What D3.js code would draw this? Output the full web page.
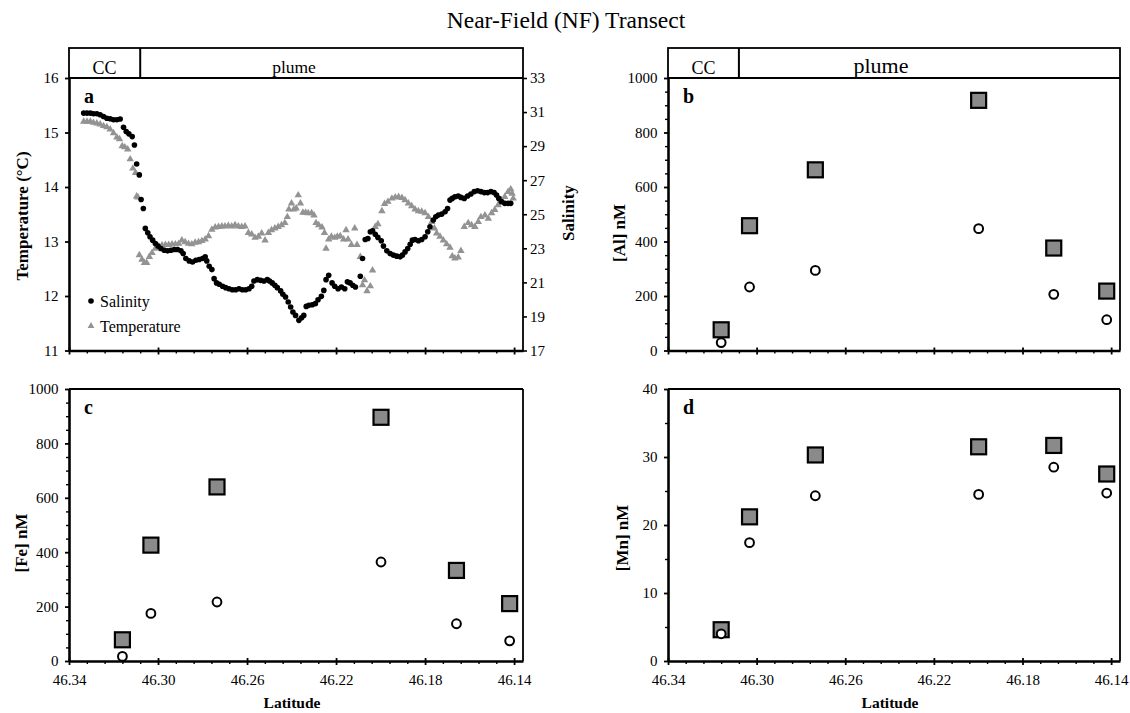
<!DOCTYPE html>
<html>
<head>
<meta charset="utf-8">
<script src="https://cdn.jsdelivr.net/npm/d3@7"></script>
<style>
  body { margin: 0; background: #fff; }
  svg, svg text { font-family: "Liberation Serif", "Times New Roman", Times, serif !important; }
  svg text { fill: #000; }
</style>
</head>
<body>
<svg id="fig" width="1130" height="713"></svg>
<script>
// ---------------- data ----------------
// Underway CTD record along the transect (latitude, °N)
const salLat = [46.3334,46.3319,46.3304,46.3290,46.3275,46.3260,46.3245,46.3230,46.3215,46.3200,
  46.3185,46.3170,46.3155,46.3143,46.3131,46.3116,46.3106,46.3096,46.3084,46.3076,
  46.3066,46.3057,46.3046,46.3036,46.3024,46.3012,46.3000,46.2987,46.2972,46.2957,
  46.2942,46.2927,46.2912,46.2897,46.2887,46.2875,46.2860,46.2845,46.2830,46.2815,
  46.2800,46.2788,46.2781,46.2770,46.2758,46.2748,46.2737,46.2725,46.2710,46.2696,
  46.2681,46.2666,46.2651,46.2636,46.2621,46.2606,46.2591,46.2579,46.2569,46.2554,
  46.2539,46.2524,46.2509,46.2499,46.2487,46.2475,46.2464,46.2449,46.2439,46.2427,
  46.2415,46.2404,46.2394,46.2382,46.2367,46.2355,46.2345,46.2334,46.2322,46.2307,
  46.2293,46.2281,46.2266,46.2255,46.2245,46.2233,46.2218,46.2206,46.2191,46.2176,
  46.2161,46.2149,46.2137,46.2125,46.2113,46.2091,46.2081,46.2069,46.2057,46.2046,
  46.2036,46.2024,46.2012,46.1997,46.1987,46.1972,46.1957,46.1942,46.1927,46.1912,
  46.1902,46.1890,46.1878,46.1867,46.1857,46.1845,46.1830,46.1815,46.1800,46.1788,
  46.1778,46.1763,46.1752,46.1740,46.1725,46.1710,46.1699,46.1688,46.1678,46.1666,
  46.1651,46.1639,46.1624,46.1609,46.1594,46.1579,46.1564,46.1549,46.1534,46.1519,
  46.1504,46.1490,46.1479,46.1469,46.1457,46.1442,46.1427,46.1415];
const salinity = [30.94,30.94,30.94,30.90,30.90,30.84,30.74,30.64,30.61,30.55,
  30.55,30.59,30.11,29.86,29.72,29.56,29.07,27.95,27.31,25.87,
  25.34,24.17,23.91,23.68,23.48,23.28,23.13,22.99,22.89,22.85,
  22.89,22.93,22.93,22.85,22.69,22.40,22.26,22.20,22.30,22.34,
  22.40,22.50,22.26,21.95,21.75,21.22,20.97,20.89,20.77,20.69,
  20.63,20.57,20.57,20.63,20.57,20.57,20.63,20.77,21.08,21.16,
  21.12,21.08,21.16,21.08,20.97,20.83,20.69,20.50,20.30,20.14,
  19.85,19.55,19.26,19.06,18.77,18.92,19.06,19.59,19.65,19.69,
  19.75,19.98,20.18,20.53,21.16,21.42,20.97,20.77,20.63,20.73,
  20.63,21.03,20.97,20.83,20.73,21.36,22.40,23.52,23.58,23.97,
  24.03,23.83,23.64,23.44,23.13,22.85,22.69,22.60,22.54,22.50,
  22.60,22.79,22.99,23.24,23.48,23.52,23.44,23.52,23.68,23.97,
  24.26,24.66,24.85,24.95,25.01,25.15,25.34,25.83,25.93,26.03,
  26.07,25.99,25.93,26.07,26.19,26.33,26.38,26.33,26.27,26.27,
  26.33,26.27,26.13,25.93,25.74,25.64,25.64,25.64];

const tempLat = [46.3334,46.3319,46.3304,46.3290,46.3275,46.3260,46.3245,46.3230,46.3215,46.3200,
  46.3185,46.3173,46.3161,46.3149,46.3136,46.3125,46.3113,46.3101,46.3096,46.3090,
  46.3084,46.3072,46.3061,46.3051,46.3039,46.3027,46.3012,46.2997,46.2982,46.2967,
  46.2952,46.2937,46.2922,46.2907,46.2893,46.2878,46.2863,46.2848,46.2833,46.2818,
  46.2803,46.2788,46.2773,46.2758,46.2743,46.2728,46.2713,46.2699,46.2684,46.2669,
  46.2654,46.2639,46.2624,46.2609,46.2594,46.2579,46.2564,46.2549,46.2534,46.2519,
  46.2504,46.2490,46.2475,46.2460,46.2445,46.2430,46.2419,46.2412,46.2400,46.2390,
  46.2379,46.2370,46.2360,46.2349,46.2337,46.2325,46.2310,46.2299,46.2290,46.2278,
  46.2263,46.2252,46.2245,46.2233,46.2221,46.2206,46.2194,46.2181,46.2166,46.2155,
  46.2146,46.2131,46.2116,46.2106,46.2091,46.2081,46.2072,46.2061,46.2046,46.2036,
  46.2024,46.2012,46.1994,46.1982,46.1967,46.1949,46.1934,46.1919,46.1904,46.1890,
  46.1875,46.1860,46.1845,46.1830,46.1815,46.1800,46.1785,46.1770,46.1758,46.1748,
  46.1733,46.1718,46.1703,46.1688,46.1678,46.1666,46.1651,46.1639,46.1624,46.1606,
  46.1591,46.1576,46.1561,46.1549,46.1531,46.1516,46.1501,46.1487,46.1472,46.1457,
  46.1442,46.1427,46.1415,46.1409,46.1404];
const temperature = [15.20,15.20,15.20,15.18,15.17,15.15,15.12,15.10,15.06,14.99,
  14.91,14.88,14.75,14.73,14.69,14.51,14.34,14.26,13.83,13.81,
  12.75,12.67,12.61,12.61,12.72,12.79,12.87,12.91,12.93,12.94,
  12.94,12.95,12.95,12.96,13.02,12.99,12.96,12.95,12.98,12.99,
  13.01,13.04,13.10,13.22,13.26,13.27,13.28,13.28,13.29,13.28,
  13.30,13.28,13.27,13.28,13.16,13.13,13.07,13.09,13.15,13.02,
  13.16,13.21,13.24,13.27,13.30,13.34,13.45,13.59,13.70,13.59,
  13.61,13.85,13.70,13.53,13.53,13.52,13.52,13.48,13.34,13.30,
  13.26,13.16,12.87,13.04,13.09,13.07,13.09,13.10,13.04,13.21,
  13.04,12.94,13.24,12.94,12.72,12.20,12.29,12.09,12.18,12.47,
  13.27,13.32,13.56,13.69,13.73,13.79,13.81,13.82,13.80,13.76,
  13.70,13.65,13.59,13.56,13.55,13.52,13.45,13.36,13.24,13.15,
  13.09,13.02,12.95,12.89,12.73,12.69,12.71,12.83,13.27,13.34,
  13.30,13.27,13.36,13.45,13.48,13.42,13.52,13.58,13.67,13.76,
  13.82,13.91,13.96,13.88,13.79];

// Discrete bottle stations (latitude, °N)
const stationLat = [46.3160, 46.3032, 46.2735, 46.1998, 46.1659, 46.1420];
// squares: total dissolvable; circles: dissolved (nM)
const alTotal     = [76, 458, 663, 918, 376, 218];
const alDissolved = [29, 233, 294, 447, 206, 113];
const feTotal     = [78, 426, 640, 896, 333, 211];
const feDissolved = [17, 175, 217, 364, 137, 74];
const mnTotal     = [4.6, 21.2, 30.3, 31.5, 31.7, 27.5];
const mnDissolved = [4.0, 17.4, 24.3, 24.5, 28.5, 24.7];

// Axes
const latDomain = [46.34, 46.136];
const latTicks = [46.34, 46.30, 46.26, 46.22, 46.18, 46.14];
const latMinor = d3.range(0, 26).filter(i => i % 5 !== 0).map(i => +(46.34 - i * 0.008).toFixed(3));
const tempTicks = [11, 12, 13, 14, 15, 16];
const salTicks = [17, 19, 21, 23, 25, 27, 29, 31, 33];
const metalTicks = [0, 200, 400, 600, 800, 1000];
const metalMinor = d3.range(50, 1000, 50).filter(v => v % 200 !== 0);
const mnTicks = [0, 10, 20, 30, 40];
const mnMinor = [5, 15, 25, 35];
const zoneBoundary = 46.308;   // coastal current | plume
const zoneNames = ["CC", "plume"];

// ---------------- drawing ----------------
const svg = d3.select("#fig");
const SERIF = '"Liberation Serif", "Times New Roman", Times, serif';

svg.append("text")
  .attr("x", 566).attr("y", 28)
  .attr("text-anchor", "middle")
  .attr("font-size", 23.5)
  .text("Near-Field (NF) Transect");

const boxes = {
  a: { left: 69,  right: 523,  top: 78,  bottom: 350.5 },
  b: { left: 668, right: 1120, top: 78,  bottom: 350.5 },
  c: { left: 69,  right: 523,  top: 389, bottom: 661 },
  d: { left: 668, right: 1120, top: 389, bottom: 661 }
};

function styleAxis(g, size) {
  g.attr("font-family", SERIF).attr("font-size", size);
  g.selectAll(".tick text").attr("fill", "#000").style("font-family", SERIF);
}

function panel(box, yScaleDomain, yTicks, yMinor, cfg) {
  const g = svg.append("g");
  const x = d3.scaleLinear().domain(latDomain).range([box.left, box.right]);
  const y = d3.scaleLinear().domain(yScaleDomain).range([box.bottom, box.top]);

  // top & right frame
  g.append("line").attr("x1", box.left).attr("x2", box.right)
    .attr("y1", box.top).attr("y2", box.top).attr("stroke", "#000").attr("stroke-width", 2);
  g.append("line").attr("x1", box.right).attr("x2", box.right)
    .attr("y1", box.top).attr("y2", box.bottom).attr("stroke", "#000").attr("stroke-width", 1.8);

  // latitude axis
  const gxMinor = g.append("g").attr("transform", `translate(0,${box.bottom})`)
    .call(d3.axisBottom(x).tickValues(latMinor).tickSize(3).tickSizeOuter(0).tickFormat(""));
  gxMinor.select(".domain").remove();
  gxMinor.selectAll(".tick line").attr("stroke-width", 1.4);

  const gx = g.append("g").attr("transform", `translate(0,${box.bottom})`)
    .call(d3.axisBottom(x).tickValues(latTicks).tickSize(4).tickSizeOuter(0)
      .tickFormat(cfg.xLabels ? d3.format(".2f") : ""));
  styleAxis(gx, 15);
  gx.select(".domain").attr("stroke-width", 2.6);
  gx.selectAll(".tick line").attr("y1", -3).attr("stroke-width", 1.8);
  gx.selectAll(".tick text").attr("y", 13.5);

  // left value axis
  if (yMinor) {
    const gyMinor = g.append("g").attr("transform", `translate(${box.left},0)`)
      .call(d3.axisLeft(y).tickValues(yMinor).tickSize(3).tickSizeOuter(0).tickFormat(""));
    gyMinor.select(".domain").remove();
    gyMinor.selectAll(".tick line").attr("stroke-width", 1.4);
  }
  const gy = g.append("g").attr("transform", `translate(${box.left},0)`)
    .call(d3.axisLeft(y).tickValues(yTicks).tickSize(4).tickSizeOuter(0)
      .tickPadding(6.5).tickFormat(d3.format("d")));
  styleAxis(gy, 15);
  gy.select(".domain").attr("stroke-width", 2.6);
  gy.selectAll(".tick line").attr("x2", -4).attr("x1", 1).attr("stroke-width", 1.8);

  // y-axis title
  g.append("text")
    .attr("transform", `translate(${cfg.yTitleX},${cfg.yTitleY}) rotate(-90)`)
    .attr("text-anchor", "middle").attr("dominant-baseline", "central")
    .attr("font-weight", "bold").attr("font-size", 17)
    .text(cfg.yTitle);

  // panel letter
  g.append("text").attr("x", box.left + 15).attr("y", box.top + 25)
    .attr("font-weight", "bold").attr("font-size", 20).text(cfg.letter);

  if (cfg.xLabels) {
    g.append("text").attr("x", (box.left + box.right) / 2 - 4).attr("y", 708)
      .attr("text-anchor", "middle").attr("font-weight", "bold").attr("font-size", 15.5)
      .text("Latitude");
  }

  if (cfg.zones) {
    const zy0 = 48;
    const zg = g.append("g");
    zg.append("rect").attr("x", box.left).attr("y", zy0)
      .attr("width", box.right - box.left).attr("height", box.top - zy0)
      .attr("fill", "none").attr("stroke", "#000").attr("stroke-width", 1.8);
    zg.append("line").attr("x1", x(zoneBoundary)).attr("x2", x(zoneBoundary))
      .attr("y1", zy0).attr("y2", box.top).attr("stroke", "#000").attr("stroke-width", 2);
    zg.append("text").attr("x", (box.left + x(zoneBoundary)) / 2).attr("y", 74)
      .attr("text-anchor", "middle").attr("font-size", 18).text(zoneNames[0]);
    zg.append("text").attr("x", cfg.plumeX).attr("y", 72.5)
      .attr("text-anchor", "middle").attr("font-size", cfg.plumeSize).text(zoneNames[1]);
  }
  return { g, x, y };
}

function stations(p, total, dissolved) {
  const side = 15;
  p.g.append("g").selectAll("rect").data(total).join("rect")
    .attr("x", (d, i) => p.x(stationLat[i]) - side / 2)
    .attr("y", d => p.y(d) - side / 2)
    .attr("width", side).attr("height", side)
    .attr("fill", "#8a8a8a").attr("stroke", "#000").attr("stroke-width", 2.2);
  p.g.append("g").selectAll("circle").data(dissolved).join("circle")
    .attr("cx", (d, i) => p.x(stationLat[i]))
    .attr("cy", d => p.y(d))
    .attr("r", 4.4)
    .attr("fill", "#fff").attr("stroke", "#000").attr("stroke-width", 2);
}

// ---- panel a: temperature & salinity ----
const pa = panel(boxes.a, [11, 16], tempTicks, null, {
  letter: "a", yTitle: "Temperature (°C)", yTitleX: 22, yTitleY: 216,
  xLabels: false, zones: true, plumeX: 294, plumeSize: 17.5
});
const ySal = d3.scaleLinear().domain([17, 33]).range([boxes.a.bottom, boxes.a.top]);
const gyr = pa.g.append("g").attr("transform", `translate(${boxes.a.right},0)`)
  .call(d3.axisRight(ySal).tickValues(salTicks).tickSize(4).tickSizeOuter(0)
    .tickPadding(3).tickFormat(d3.format("d")));
styleAxis(gyr, 15);
gyr.select(".domain").remove();
gyr.selectAll(".tick line").attr("stroke-width", 1.6);
pa.g.append("text")
  .attr("transform", `translate(568,213) rotate(-90)`)
  .attr("text-anchor", "middle").attr("dominant-baseline", "central")
  .attr("font-weight", "bold").attr("font-size", 17).text("Salinity");

const tri = d3.symbol().type(d3.symbolTriangle).size(24);
pa.g.append("g").selectAll("path").data(temperature).join("path")
  .attr("d", tri)
  .attr("transform", (d, i) => `translate(${pa.x(tempLat[i])},${pa.y(d)})`)
  .attr("fill", "#939393");
pa.g.append("g").selectAll("circle").data(salinity).join("circle")
  .attr("cx", (d, i) => pa.x(salLat[i]))
  .attr("cy", d => ySal(d))
  .attr("r", 2.8).attr("fill", "#000");

// legend
const lg = pa.g.append("g");
lg.append("circle").attr("cx", 91).attr("cy", 301).attr("r", 2.8).attr("fill", "#000");
lg.append("text").attr("x", 100).attr("y", 306.5).attr("font-size", 16).text("Salinity");
lg.append("path").attr("d", d3.symbol().type(d3.symbolTriangle).size(20))
  .attr("transform", "translate(91,326)").attr("fill", "#939393");
lg.append("text").attr("x", 100).attr("y", 331.5).attr("font-size", 16).text("Temperature");

// ---- panel b: Al ----
const pb = panel(boxes.b, [0, 1000], metalTicks, metalMinor, {
  letter: "b", yTitle: "[Al] nM", yTitleX: 619, yTitleY: 233,
  xLabels: false, zones: true, plumeX: 881, plumeSize: 22
});
stations(pb, alTotal, alDissolved);

// ---- panel c: Fe ----
const pc = panel(boxes.c, [0, 1000], metalTicks, metalMinor, {
  letter: "c", yTitle: "[Fe] nM", yTitleX: 21, yTitleY: 543, xLabels: true, zones: false
});
stations(pc, feTotal, feDissolved);

// ---- panel d: Mn ----
const pd = panel(boxes.d, [0, 40], mnTicks, mnMinor, {
  letter: "d", yTitle: "[Mn] nM", yTitleX: 622, yTitleY: 538, xLabels: true, zones: false
});
stations(pd, mnTotal, mnDissolved);

// make sure every label uses the serif face
svg.selectAll("text").style("font-family", SERIF);
</script>
</body>
</html>
